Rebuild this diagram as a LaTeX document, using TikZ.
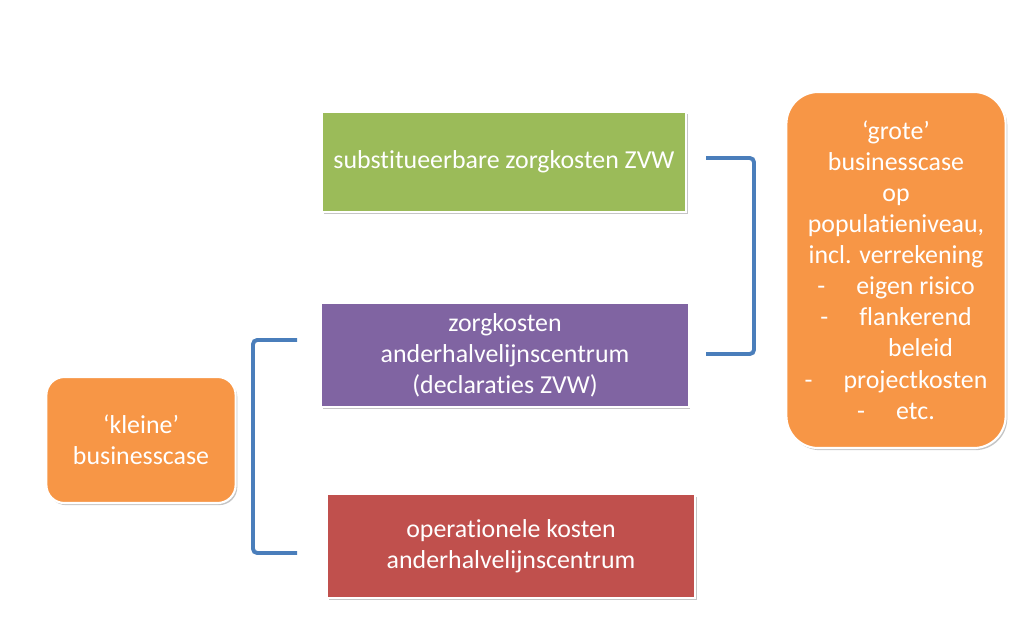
\documentclass[tikz,border=0pt]{standalone}
\usepackage{fontspec}
\setmainfont[Ligatures=CommonOff]{Carlito}
\usetikzlibrary{positioning,shadows}
\definecolor{boxgreen}{HTML}{9BBB59}
\definecolor{boxpurple}{HTML}{8064A2}
\definecolor{boxred}{HTML}{C0504D}
\definecolor{boxorange}{HTML}{F79646}
\definecolor{bracketblue}{HTML}{4A7EBB}
\tikzset{
  costbox/.style={draw=white,line width=1.5pt,text=white,align=center,
    font=\fontsize{18.4}{22.1}\selectfont,inner sep=2pt,
    drop shadow={shadow xshift=1.2pt,shadow yshift=-1.5pt,fill=black!45,opacity=0.5}},
  casebox/.style={costbox,fill=boxorange},
  bracket/.style={bracketblue,line width=2.8pt,rounded corners=3pt}
}
\begin{document}
\begin{tikzpicture}[x=0.025cm,y=-0.025cm]
    \useasboundingbox (0,0) rectangle (1024,631);
    \node[costbox,fill=boxgreen,minimum width=9.1cm,minimum height=2.5cm] (subst) at (504,162) {substitueerbare zorgkosten ZVW};
    \node[costbox,fill=boxpurple,minimum width=9.18cm,minimum height=2.58cm] (decl) at (505,355) {zorgkosten\\anderhalvelijnscentrum\\(declaraties ZVW)};
    \node[costbox,fill=boxred,minimum width=9.2cm,minimum height=2.58cm] (oper) at (511,546) {operationele kosten\\anderhalvelijnscentrum};
    \node[casebox,rounded corners=0.45cm,minimum width=4.73cm,minimum height=3.15cm] (klein) at (141,440) {‘kleine’\\businesscase};
    \node[casebox,rounded corners=0.8cm,minimum width=5.48cm,minimum height=8.9cm] (groot) at (896,270)
      {‘grote’\\businesscase\\op\\populatieniveau,\\incl. verrekening\\-\hspace{1.2em}eigen risico\\-\hspace{1.2em}flankerend\\\hspace{1.9em}beleid\\-\hspace{1.2em}projectkosten\\-\hspace{1.2em}etc.};
    % brackets
    \coordinate (kt) at (297,340);
    \coordinate (kb) at (297,553);
    \coordinate (gt) at (706,158);
    \coordinate (gb) at (706,354);
    \draw[bracket] (kt) -- ++(-44,0) |- (kb);
    \draw[bracket] (gt) -- ++(48,0) |- (gb);
  \end{tikzpicture}
\end{document}
